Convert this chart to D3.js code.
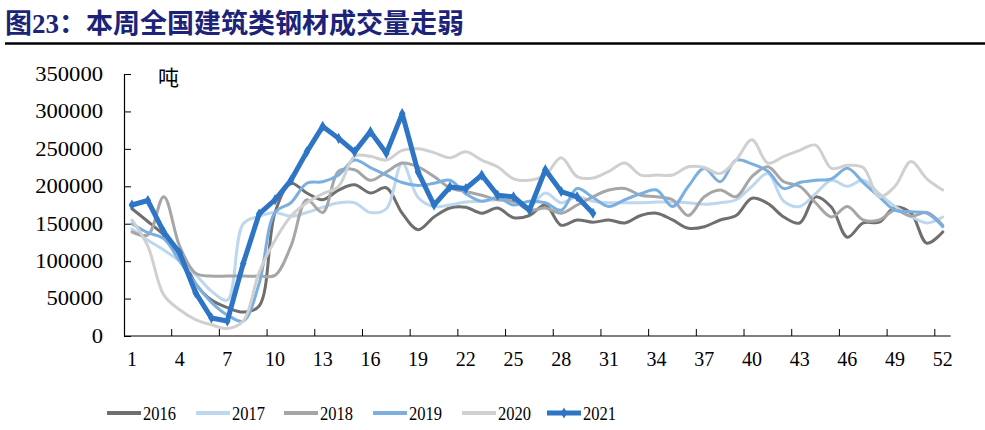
<!DOCTYPE html>
<html>
<head>
<meta charset="utf-8">
<script src="https://cdn.jsdelivr.net/npm/d3@7"></script>
<style>
  html, body { margin: 0; padding: 0; background: #fff; }
  svg { display: block; }
</style>
</head>
<body>
<svg id="chart" width="985" height="430"></svg>
<script>
// ---- data ----
const weeks = d3.range(1, 53);
const xTickLabels = [1, 4, 7, 10, 13, 16, 19, 22, 25, 28, 31, 34, 37, 40, 43, 46, 49, 52];
const yTicks = [0, 50000, 100000, 150000, 200000, 250000, 300000, 350000];
const seriesNames = ["2016", "2017", "2018", "2019", "2020", "2021"];

// weekly volume, thousand tonnes
const v2016 = [170,153,135,113,70,48,38,32,40,165,204,191,182,195,202,191,198,164,142,159,171,172,164,171,158,161,175,148,155,152,155,151,161,164,155,144,146,155,161,184,177,159,151,186,172,132,151,152,172,164,124,139];
const v2017 = [143,128,115,100,82,60,48,150,160,165,160,165,172,178,178,165,170,231,185,173,175,179,180,182,180,173,191,178,186,180,178,178,178,179,179,178,176,178,182,200,217,180,173,190,208,200,208,190,173,160,151,159];
const v2018 = [139,135,186,120,84,80,80,80,80,81,120,182,165,220,222,208,219,231,226,213,198,193,188,182,180,168,171,164,175,186,195,197,188,186,182,161,186,195,186,213,226,206,200,178,159,173,155,155,168,160,165,148];
const v2019 = [150,138,130,100,70,45,28,20,70,165,178,204,206,215,235,225,215,205,201,204,208,190,180,185,175,180,178,168,197,185,173,182,190,195,173,200,224,206,235,230,220,197,205,208,210,224,205,186,168,166,164,146];
const v2020 = [155,120,55,35,22,15,10,20,85,128,160,178,190,200,240,240,235,248,250,245,238,246,235,226,210,208,215,238,213,211,220,231,215,215,215,226,225,217,235,262,231,240,248,255,224,228,225,186,200,233,210,195];
const v2021 = [175,181,139,111,58,24,20,97,163,182,208,246,280,264,246,273,244,297,219,175,199,197,215,188,186,168,222,193,186,164];

const seriesValues = [v2016, v2017, v2018, v2019, v2020, v2021];
const colors = ["#6f6f6f", "#bdd7ee", "#a6a6a6", "#7bafdf", "#d0d0d0", "#2e75c6"];
const widths = [3, 3, 3, 3, 3, 5];

// ---- layout ----
const svg = d3.select("#chart");
const plot = { left: 124, right: 950.7, top: 74, bottom: 336 };

const x = d3.scaleBand().domain(weeks).range([plot.left, plot.right]).paddingInner(0).paddingOuter(0);
const y = d3.scaleLinear().domain([0, 350000]).range([plot.bottom, plot.top]);
const cx = w => x(w) + x.bandwidth() / 2;

// title
svg.append("text")
  .attr("x", 5).attr("y", 33)
  .attr("font-family", "'Liberation Serif', 'Noto Sans CJK SC', serif")
  .attr("font-weight", "bold")
  .attr("font-size", 27)
  .attr("fill", "#1c2378")
  .text("图23：本周全国建筑类钢材成交量走弱");
svg.append("line")
  .attr("x1", 5).attr("x2", 985).attr("y1", 43.5).attr("y2", 43.5)
  .attr("stroke", "#000").attr("stroke-width", 2.5);

// y axis
const yAxis = d3.axisLeft(y).tickValues(yTicks).tickSizeInner(-7).tickSizeOuter(0).tickPadding(21).tickFormat(d3.format("d"));
const gy = svg.append("g").attr("transform", `translate(${plot.left},0)`).call(yAxis);
gy.selectAll("text")
  .attr("font-family", "'Liberation Serif', serif").attr("font-size", 20).attr("fill", "#000")
  .attr("textLength", d => String(d).length * 11.3).attr("lengthAdjust", "spacingAndGlyphs");
gy.selectAll("line").attr("stroke", "#000");
gy.select(".domain").attr("stroke", "#000").attr("stroke-width", 1.2);

// x axis (labels at category centres, ticks at category boundaries)
const xAxis = d3.axisBottom(x).tickValues(xTickLabels).tickSize(0).tickPadding(16);
const gx = svg.append("g").attr("transform", `translate(0,${plot.bottom})`).call(xAxis);
gx.select(".domain").remove();
gx.selectAll("text").attr("font-family", "'Liberation Serif', serif").attr("font-size", 20).attr("fill", "#000");
svg.append("line").attr("x1", plot.left).attr("x2", plot.right).attr("y1", plot.bottom).attr("y2", plot.bottom)
  .attr("stroke", "#000").attr("stroke-width", 1.2);
svg.append("g").selectAll("line").data(xTickLabels.slice(1)).join("line")
  .attr("x1", d => x(d)).attr("x2", d => x(d))
  .attr("y1", plot.bottom).attr("y2", plot.bottom - 7)
  .attr("stroke", "#000").attr("stroke-width", 1);

// unit
svg.append("text").attr("x", 158).attr("y", 85)
  .attr("font-family", "'Noto Sans CJK SC', sans-serif").attr("font-size", 21).attr("fill", "#000").text("吨");

// lines
const smooth = d3.line().x((d, i) => cx(weeks[i])).y(d => y(d * 1000)).curve(d3.curveCatmullRom.alpha(0.5));
const straight = d3.line().x((d, i) => cx(weeks[i])).y(d => y(d * 1000));

seriesValues.forEach((vals, si) => {
  svg.append("path")
    .attr("d", si === 5 ? straight(vals) : smooth(vals))
    .attr("fill", "none")
    .attr("stroke", colors[si])
    .attr("stroke-width", widths[si])
    .attr("stroke-linejoin", "round")
    .attr("stroke-linecap", "round");
});

// 2021 markers
const diamond = d3.symbol().type(d3.symbolDiamond).size(36);
svg.append("g").selectAll("path").data(v2021).join("path")
  .attr("d", diamond)
  .attr("transform", (d, i) => `translate(${cx(weeks[i])},${y(d * 1000)})`)
  .attr("fill", colors[5]);

// legend
const legendX = [107, 196, 284, 373, 462, 547];
const lg = svg.append("g");
seriesNames.forEach((name, i) => {
  const g = lg.append("g").attr("transform", `translate(${legendX[i]},413)`);
  g.append("line").attr("x1", 0).attr("x2", 34).attr("y1", 0).attr("y2", 0)
    .attr("stroke", colors[i]).attr("stroke-width", i === 5 ? 5 : 4);
  if (i === 5) g.append("path").attr("d", diamond).attr("transform", "translate(17,0)").attr("fill", colors[i]);
  g.append("text").attr("x", 36).attr("y", 6.5)
    .attr("font-family", "'Liberation Serif', serif").attr("font-size", 19).attr("fill", "#000")
    .attr("textLength", 33).attr("lengthAdjust", "spacingAndGlyphs")
    .text(name);
});
</script>
</body>
</html>
